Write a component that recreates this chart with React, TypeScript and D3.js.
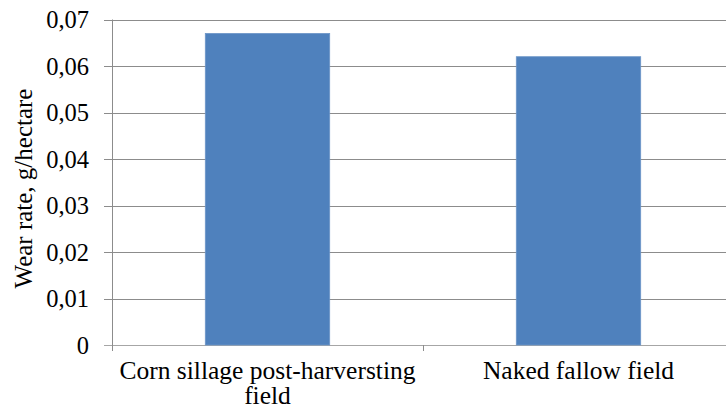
import React from "react";
import * as d3 from "d3";

const categories = ["Corn sillage post-harversting field", "Naked fallow field"];
const values = [0.067, 0.062];
const yTicks = [0, 0.01, 0.02, 0.03, 0.04, 0.05, 0.06, 0.07];
const yLabel = "Wear rate, g/hectare";

const W = 726;
const H = 409;
const left = 112;
const right = 734;
const top = 19.5;
const bottom = 345;

export default function App() {
  const x = d3.scaleBand<string>().domain(categories).range([left, right]).paddingInner(0.6).paddingOuter(0.3);
  const band = d3.scaleBand<string>().domain(categories).range([left, right]);
  const y = d3.scaleLinear().domain([0, 0.07]).range([bottom, top]);
  const fmt = (v: number) => (v === 0 ? "0" : d3.format(".2f")(v).replace(".", ","));
  const font = "'Liberation Serif', 'Times New Roman', serif";

  const wrapLines = (s: string) => (s.startsWith("Corn") ? ["Corn sillage post-harversting", "field"] : [s]);

  return (
    <svg width={W} height={H} style={{ position: "absolute", left: 0, top: 0, background: "#fff" }}>
      {yTicks.map((t) => (
        <g key={t}>
          <line x1={left - 8} x2={W} y1={Math.round(y(t)) + 0.5} y2={Math.round(y(t)) + 0.5} stroke={t === 0 ? "#a6a6a6" : "#8c8c8c"} strokeWidth={1} />
          <text x={89} y={y(t)} dy="0.35em" textAnchor="end" fontFamily={font} fontSize={24.5} fill="#000">
            {fmt(t)}
          </text>
        </g>
      ))}
      <line x1={left + 0.5} x2={left + 0.5} y1={top} y2={bottom + 6} stroke="#8c8c8c" />
      {categories.map((c, i) => (
        <line key={"t" + i} x1={Math.round((band(c) as number) + band.bandwidth()) + 0.5} x2={Math.round((band(c) as number) + band.bandwidth()) + 0.5} y1={bottom} y2={bottom + 6} stroke="#8c8c8c" />
      ))}
      {categories.map((c, i) => (
        <rect key={c} x={x(c)} y={y(values[i])} width={x.bandwidth()} height={bottom - y(values[i])} fill="#4f81bd" stroke="#6d96c8" strokeWidth={0.8} />
      ))}
      {categories.map((c) => {
        const cx = (band(c) as number) + band.bandwidth() / 2;
        return (
          <text key={"l" + c} x={cx} y={379} textAnchor="middle" fontFamily={font} fontSize={25.5} fill="#000">
            {wrapLines(c).map((ln, j) => (
              <tspan key={j} x={cx} dy={j === 0 ? 0 : 25}>
                {ln}
              </tspan>
            ))}
          </text>
        );
      })}
      <text transform={`translate(32,188.5) rotate(-90)`} textAnchor="middle" fontFamily={font} fontSize={25} fill="#000">
        {yLabel}
      </text>
    </svg>
  );
}
